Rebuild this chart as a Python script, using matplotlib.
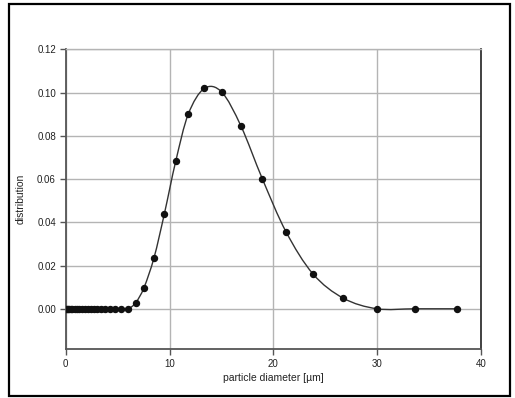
import matplotlib
matplotlib.use('Agg')
import matplotlib.pyplot as plt
from matplotlib.patches import Rectangle, PathPatch
from matplotlib.path import Path

plt.rcParams['font.family'] = ['Liberation Sans', 'DejaVu Sans']

# particle size distribution (diameter in micrometres)
diametro = [0.03, 0.1, 0.2, 0.33, 0.48, 0.65, 0.85, 1.07, 1.32, 1.58, 1.88, 2.15,
            2.43, 2.72, 3.04, 3.41, 3.82, 4.28, 4.79, 5.37, 6.01, 6.74, 7.54,
            8.51, 9.50, 10.60, 11.81, 13.35, 15.03, 16.89, 18.94, 21.22, 23.82,
            26.74, 29.99, 33.65, 37.73]
distribucion = [0.0] * 21 + [0.0028, 0.0098, 0.0237, 0.0439, 0.0683, 0.0901,
                             0.1019, 0.1002, 0.0844, 0.0601, 0.0356, 0.0161,
                             0.0049, 0.0, 0.0, 0.0]

ticksX = [0, 10, 20, 30, 40]
ticksY = [0.00, 0.02, 0.04, 0.06, 0.08, 0.10, 0.12]


def curvaSuave(xs, ys, tension=1 / 6):
    # linea suavizada tipo Excel (Bezier por tramos entre los puntos)
    verts = [(xs[0], ys[0])]
    codes = [Path.MOVETO]
    n = len(xs)
    for i in range(n - 1):
        x0, y0 = xs[max(i - 1, 0)], ys[max(i - 1, 0)]
        x1, y1 = xs[i], ys[i]
        x2, y2 = xs[i + 1], ys[i + 1]
        x3, y3 = xs[min(i + 2, n - 1)], ys[min(i + 2, n - 1)]
        c1 = (x1 + (x2 - x0) * tension, y1 + (y2 - y0) * tension)
        c2 = (x2 - (x3 - x1) * tension, y2 - (y3 - y1) * tension)
        verts += [c1, c2, (x2, y2)]
        codes += [Path.CURVE4] * 3
    return Path(verts, codes)


fig = plt.figure(figsize=(5.15, 3.98), dpi=100)
ax = fig.add_axes([0.1276, 0.1231, 0.8064, 0.7530])

# marco exterior
fig.patches.append(Rectangle((9 / 515, 2 / 398), 501 / 515, 392 / 398,
                             transform=fig.transFigure, fill=False,
                             edgecolor='black', linewidth=1.6, zorder=0))

ax.add_patch(PathPatch(curvaSuave(diametro, distribucion), fill=False,
                       edgecolor='#333333', linewidth=1.0, zorder=3))
ax.plot(diametro, distribucion, linestyle='none', marker='o', markersize=4.3,
        markerfacecolor='#111111', markeredgecolor='#111111', zorder=4)

ax.set_xlim(0, 40)
ax.set_ylim(-0.0186, 0.12)
ax.set_xticks(ticksX)
ax.set_yticks(ticksY)
ax.set_xticklabels([str(t) for t in ticksX])
ax.set_yticklabels([f'{t:.2f}' for t in ticksY])
ax.grid(True, color='#b4b4b4', linewidth=1.0)
ax.set_axisbelow(True)

ax.tick_params(axis='both', labelsize=7, colors='#555555', length=4,
               width=1.0, direction='out', pad=3)
for lbl in ax.get_xticklabels() + ax.get_yticklabels():
    lbl.set_color('#222222')

ax.spines['left'].set_color('#555555')
ax.spines['bottom'].set_color('#555555')
ax.spines['right'].set_color('#333333')
ax.spines['top'].set_color('#b4b4b4')
for s in ax.spines.values():
    s.set_linewidth(1.3)
ax.spines['top'].set_linewidth(1.0)

ax.set_xlabel('particle diameter [µm]', fontsize=7.5, color='#222222', labelpad=3)
ax.set_ylabel('distribution', fontsize=7.5, color='#222222', labelpad=8)

fig.savefig('out.png', dpi=100)
